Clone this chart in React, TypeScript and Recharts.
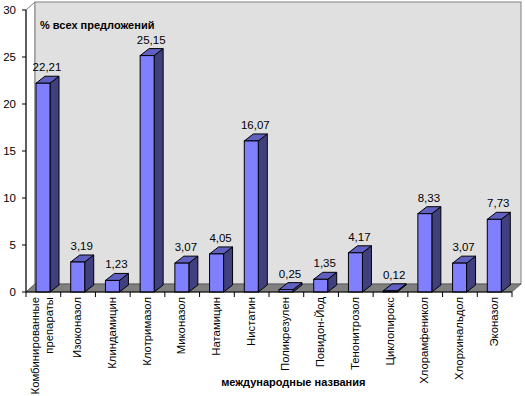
import { BarChart, Bar, XAxis, YAxis, ReferenceArea, LabelList } from "recharts";

const categories = [
  "Комбинированные\nпрепараты",
  "Изоконазол",
  "Клиндамицин",
  "Клотримазол",
  "Миконазол",
  "Натамицин",
  "Нистатин",
  "Поликрезулен",
  "Повидон-Йод",
  "Тенонитрозол",
  "Циклопирокс",
  "Хлорамфеникол",
  "Хлорхинальдол",
  "Эконазол",
];
const shares = [22.21, 3.19, 1.23, 25.15, 3.07, 4.05, 16.07, 0.25, 1.35, 4.17, 0.12, 8.33, 3.07, 7.73];
const yTicks = [0, 5, 10, 15, 20, 25, 30];

const data = categories.map((name, i) => ({ name, value: shares[i] }));

const FONT = '"Liberation Sans", Arial, sans-serif';
const W = 525;
const H = 396;
const M = { top: 10, right: 13, left: 0, bottom: 0 };
const Y_W = 26;
const X_H = 104;
const BAND = (W - M.left - M.right - Y_W) / categories.length;

// depth of the 3d box
const WD = { x: 9, y: 8 };
const BD = { x: 9, y: 7 };

function Wall(props: any) {
  const { x, y, width, height } = props;
  const b = y + height;
  const r = x + width;
  return (
    <g>
      <polygon
        points={`${x},${y} ${x + WD.x},${y - WD.y} ${x + WD.x},${b - WD.y} ${x},${b}`}
        fill="#ffffff"
        stroke="#808080"
      />
      <rect x={x + WD.x} y={y - WD.y} width={width} height={height} fill="#e0e0e0" stroke="#808080" />
      <polygon
        points={`${x},${b} ${x + WD.x},${b - WD.y} ${r + WD.x},${b - WD.y} ${r},${b}`}
        fill="#808080"
        stroke="#404040"
        strokeWidth={0.6}
      />
    </g>
  );
}

function Box(props: any) {
  const { x, y, width, height } = props;
  const b = y + height;
  const r = x + width;
  const dx = BD.x;
  const dy = BD.y;
  return (
    <g stroke="#000000" strokeWidth={1}>
      <polygon points={`${r},${y} ${r + dx},${y - dy} ${r + dx},${b - dy} ${r},${b}`} fill="#40407f" />
      <polygon points={`${x},${y} ${x + dx},${y - dy} ${r + dx},${y - dy} ${r},${y}`} fill="#6060c0" />
      <rect x={x} y={y} width={width} height={height} fill="#8080ff" />
    </g>
  );
}

function ValueLabel(props: any) {
  const { x, y, width, value } = props;
  return (
    <text
      x={x + width / 2 + 4}
      y={y - BD.y - 5}
      textAnchor="middle"
      fontFamily={FONT}
      fontSize={11.5}
      fill="#000000"
    >
      {String(value).replace(".", ",")}
    </text>
  );
}

function CatTick(props: any) {
  const { x, y, payload, index } = props;
  const lines = String(payload.value).split("\n");
  const left = x - BAND / 2;
  return (
    <g>
      <line x1={left} y1={y} x2={left} y2={y + 5} stroke="#000000" />
      {index === categories.length - 1 && (
        <line x1={x + BAND / 2} y1={y} x2={x + BAND / 2} y2={y + 5} stroke="#000000" />
      )}
      {lines.map((ln, k) => {
        const tx = x + (k - (lines.length - 1) / 2) * 14 + 3;
        const ty = y + 5;
        return (
          <text
            key={k}
            x={tx}
            y={ty}
            transform={`rotate(-90, ${tx}, ${ty})`}
            textAnchor="end"
            fontFamily={FONT}
            fontSize={11.3}
            fill="#000000"
          >
            {ln}
          </text>
        );
      })}
    </g>
  );
}

export default function App() {
  return (
    <div style={{ position: "absolute", left: 0, top: 0, width: W, height: H, background: "#ffffff" }}>
      <BarChart width={W} height={H} data={data} margin={M} barCategoryGap={0}>
        <XAxis
          dataKey="name"
          height={X_H}
          interval={0}
          tickLine={false}
          tickSize={0}
          tickMargin={0}
          axisLine={{ stroke: "#000000" }}
          tick={<CatTick />}
          label={{
            content: (p: any) => {
              const vb = p.viewBox;
              return (
                <text
                  x={vb.x + vb.width * 0.55}
                  y={vb.y + 94}
                  textAnchor="middle"
                  fontFamily={FONT}
                  fontSize={11}
                  fontWeight="bold"
                  fill="#000000"
                >
                  международные названия
                </text>
              );
            },
          }}
        />
        <YAxis
          width={Y_W}
          domain={[0, 30]}
          ticks={yTicks}
          interval={0}
          tickSize={4}
          tickMargin={6}
          axisLine={{ stroke: "#000000" }}
          tickLine={{ stroke: "#000000" }}
          tick={{ fill: "#000000", fontSize: 11.5, fontFamily: FONT }}
          label={{
            content: (p: any) => {
              const vb = p.viewBox;
              return (
                <text
                  x={vb.x + vb.width + 14}
                  y={vb.y + 19}
                  fontFamily={FONT}
                  fontSize={11}
                  fontWeight="bold"
                  fill="#000000"
                >
                  % всех предложений
                </text>
              );
            },
          }}
        />
        <ReferenceArea y1={0} y2={30} shape={<Wall />} ifOverflow="visible" />
        <Bar dataKey="value" barSize={14} shape={<Box />} isAnimationActive={false}>
          <LabelList dataKey="value" content={<ValueLabel />} />
        </Bar>
      </BarChart>
    </div>
  );
}
